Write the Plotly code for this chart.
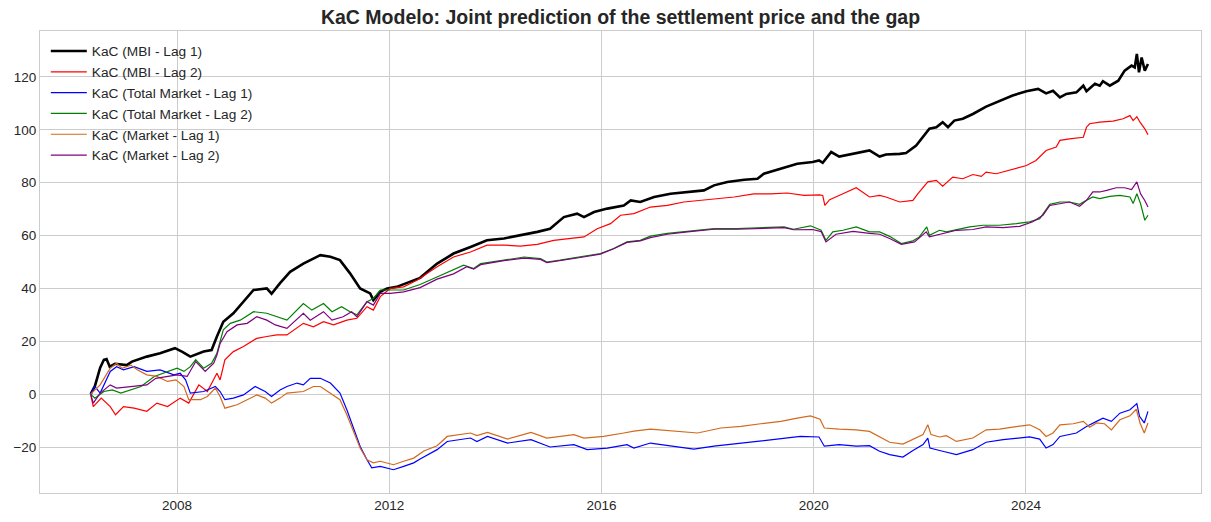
import pandas as pd
import plotly.graph_objects as go

# ---- data (decimal year, value) ----
mbi_lag1_t = [2006.37, 2006.45, 2006.55, 2006.62, 2006.67, 2006.73, 2006.83, 2007.05, 2007.15, 2007.43, 2007.68, 2007.96,
              2008.10, 2008.25, 2008.50, 2008.65, 2008.75, 2008.87, 2009.06, 2009.25, 2009.44, 2009.69, 2009.78, 2009.94,
              2010.13, 2010.38, 2010.70, 2010.89, 2011.07, 2011.26, 2011.45, 2011.64, 2011.70, 2011.83, 2011.96, 2012.14,
              2012.40, 2012.58, 2012.90, 2013.21, 2013.53, 2013.84, 2014.16, 2014.47, 2014.79, 2015.03, 2015.29, 2015.54,
              2015.67, 2015.86, 2016.11, 2016.42, 2016.55, 2016.73, 2016.99, 2017.30, 2017.62, 2017.93, 2018.12, 2018.37,
              2018.69, 2018.94, 2019.06, 2019.37, 2019.69, 2019.98, 2020.10, 2020.17, 2020.33, 2020.48, 2020.80, 2021.05,
              2021.24, 2021.36, 2021.62, 2021.74, 2021.93, 2022.06, 2022.18, 2022.31, 2022.43, 2022.53, 2022.65, 2022.81,
              2023.00, 2023.25, 2023.50, 2023.75, 2024.01, 2024.23, 2024.38, 2024.51, 2024.64, 2024.76, 2024.95, 2025.08,
              2025.14, 2025.30, 2025.39, 2025.45, 2025.58, 2025.74, 2025.86, 2025.99, 2026.05, 2026.09, 2026.13, 2026.18,
              2026.24, 2026.30]
mbi_lag1_v = [0, 3, 10, 13, 13.3, 10.4, 11.5, 11, 12.3, 14.2, 15.5, 17.4,
              16, 14.2, 16.1, 16.7, 21.8, 27.4, 30.6, 35, 39.4, 40, 38, 42,
              46.3, 49.4, 52.6, 52, 50.7, 45.7, 40, 38.1, 35.6, 38.7, 40, 40.6,
              42.5, 44, 49.4, 53.2, 55.7, 58.2, 58.9, 60.1, 61.4, 62.6, 67, 68.3,
              67, 68.9, 70.2, 71.4, 73.3, 72.7, 74.6, 75.8, 76.5, 77.1, 79, 80.3,
              81.1, 81.5, 83.4, 85.3, 87.2, 87.8, 88.4, 87.5, 91.6, 89.9, 91.2, 92.2,
              89.9, 90.7, 90.9, 91.2, 94.1, 97.2, 100.4, 101, 102.9, 101, 103.5, 104.2,
              106, 108.8, 110.8, 113, 114.6, 115.5, 113.8, 114.8, 112.3, 113.6, 114.2, 116.7,
              114.6, 117.4, 116.7, 118.4, 116.7, 118.6, 122.4, 124.3, 123.6, 128.7, 121.8, 127.4,
              122.4, 124.9]

mbi_lag2_t = [2006.37, 2006.42, 2006.57, 2006.74, 2006.84, 2006.99, 2007.19, 2007.43, 2007.62, 2007.82, 2008.06, 2008.22,
              2008.41, 2008.57, 2008.75, 2008.81, 2008.90, 2009.06, 2009.25, 2009.50, 2009.69, 2009.88, 2010.07, 2010.38,
              2010.57, 2010.76, 2010.95, 2011.20, 2011.39, 2011.58, 2011.70, 2011.83, 2012.02, 2012.27, 2012.52, 2012.90,
              2013.21, 2013.53, 2013.84, 2014.16, 2014.47, 2014.79, 2015.10, 2015.41, 2015.67, 2015.92, 2016.17, 2016.36,
              2016.61, 2016.92, 2017.24, 2017.55, 2017.87, 2018.12, 2018.50, 2018.87, 2019.19, 2019.50, 2019.82, 2020.11,
              2020.17, 2020.21, 2020.30, 2020.55, 2020.80, 2021.05, 2021.24, 2021.36, 2021.62, 2021.87, 2021.96, 2022.15,
              2022.31, 2022.43, 2022.62, 2022.81, 2023.00, 2023.16, 2023.25, 2023.44, 2023.69, 2024.01, 2024.19, 2024.38,
              2024.57, 2024.64, 2024.82, 2025.08, 2025.14, 2025.20, 2025.39, 2025.64, 2025.83, 2025.96, 2026.02, 2026.09,
              2026.15, 2026.24, 2026.30]
mbi_lag2_v = [0, -4.7, -1.5, -4.7, -7.8, -4.7, -5.3, -6.5, -3.4, -4.7, -1.5, -3.4,
              3.5, 1, 7.9, 5.4, 13, 16.1, 18, 21.1, 21.8, 22.4, 22.4, 26.8,
              25.5, 27.4, 26.2, 28, 28.7, 33.1, 31.8, 36.9, 40, 40.6, 43.1, 48.2,
              51.9, 53.8, 56.4, 56.4, 56, 56.7, 58.2, 58.9, 59.5, 62.6, 64.5, 67.7,
              68.3, 70.8, 71.4, 72.7, 73.3, 74, 74.6, 75.8, 75.8, 76.1, 75.2, 75.4,
              75.2, 71.4, 73.6, 75.8, 78.1, 74.6, 75.2, 74.6, 72.7, 73.3, 75.8, 80.3,
              80.9, 78.7, 82.1, 81.5, 83.1, 82.4, 84, 83.4, 84.7, 86.5, 88.4, 92.2,
              93.5, 96, 96.6, 97.2, 101, 102.3, 102.9, 103.3, 104.2, 105.4, 103.5, 105,
              102.9, 100.4, 98.2]

tm_lag1_t = [2006.37, 2006.45, 2006.55, 2006.74, 2006.86, 2006.99, 2007.19, 2007.43, 2007.68, 2007.94, 2008.06, 2008.16,
             2008.25, 2008.50, 2008.72, 2008.81, 2008.90, 2009.06, 2009.25, 2009.47, 2009.66, 2009.78, 2009.94, 2010.07,
             2010.26, 2010.38, 2010.51, 2010.70, 2010.89, 2011.07, 2011.20, 2011.33, 2011.45, 2011.58, 2011.67, 2011.83,
             2012.08, 2012.27, 2012.46, 2012.58, 2012.90, 2013.09, 2013.53, 2013.65, 2013.85, 2014.23, 2014.67, 2015.03,
             2015.48, 2015.73, 2016.11, 2016.48, 2016.61, 2016.92, 2017.36, 2017.74, 2018.12, 2018.56, 2019.00, 2019.38,
             2019.75, 2020.10, 2020.20, 2020.48, 2020.80, 2021.05, 2021.24, 2021.43, 2021.68, 2021.87, 2022.06, 2022.15,
             2022.19, 2022.43, 2022.69, 2023.00, 2023.25, 2023.57, 2023.82, 2024.07, 2024.26, 2024.38, 2024.51, 2024.64,
             2024.95, 2025.14, 2025.33, 2025.45, 2025.61, 2025.77, 2025.96, 2026.09, 2026.14, 2026.23, 2026.30]
tm_lag1_v = [0, 2.9, 0.4, 8.6, 10.4, 9.2, 10.4, 8.6, 9.2, 7.3, 7.9, 5.4,
             0.4, 1, 2.9, 1, -2.1, -1.5, -0.3, 2.9, 1, -0.9, 1.6, 2.9,
             4.2, 3.5, 6, 6, 4.2, 0.4, -5.9, -13.5, -19.7, -24.8, -27.9, -27.3,
             -28.6, -27.3, -26, -24.5, -21, -17.9, -16.6, -17.9, -16, -18.5, -17.2, -20,
             -19.1, -21, -20.4, -19.1, -20.4, -18.5, -19.7, -20.8, -19.7, -18.7, -17.9, -17,
             -16, -16.2, -19.7, -19.1, -19.7, -19.5, -21.6, -22.9, -23.8, -21.3, -19.1, -16.6,
             -20.4, -21.6, -22.9, -21, -18.2, -17.2, -16.6, -16.2, -17, -20.4, -19.1, -16,
             -14.7, -12.2, -10.3, -9.1, -10.3, -7.2, -5.9, -3.6, -8.4, -10.9, -6.5]

tm_lag2_t = [2006.37, 2006.45, 2006.62, 2006.78, 2006.94, 2007.13, 2007.32, 2007.57, 2007.82, 2008.00, 2008.13, 2008.25,
             2008.35, 2008.50, 2008.65, 2008.75, 2008.87, 2009.00, 2009.19, 2009.44, 2009.69, 2009.88, 2010.07, 2010.38,
             2010.54, 2010.76, 2010.92, 2011.10, 2011.26, 2011.39, 2011.58, 2011.70, 2011.83, 2012.02, 2012.27, 2012.58,
             2012.90, 2013.21, 2013.40, 2013.59, 2013.72, 2014.16, 2014.54, 2014.85, 2014.97, 2015.22, 2015.60, 2015.98,
             2016.23, 2016.48, 2016.73, 2016.92, 2017.24, 2017.62, 2018.12, 2018.56, 2019.00, 2019.44, 2019.62, 2019.94,
             2020.14, 2020.23, 2020.36, 2020.55, 2020.80, 2021.05, 2021.24, 2021.43, 2021.65, 2021.87, 2021.99, 2022.13,
             2022.18, 2022.37, 2022.50, 2022.69, 2022.94, 2023.19, 2023.50, 2023.82, 2024.07, 2024.26, 2024.45, 2024.64,
             2024.82, 2025.01, 2025.08, 2025.26, 2025.39, 2025.58, 2025.77, 2025.96, 2026.02, 2026.09, 2026.16, 2026.24,
             2026.30]
tm_lag2_v = [0, -1.5, 1, 1.6, 0.4, 1.6, 2.9, 6.7, 8.6, 9.8, 8.6, 10.4,
             13, 9.8, 11.7, 15.5, 24.3, 26.8, 28, 31.2, 30.6, 29.3, 28, 34.3,
             31.8, 34.3, 31.2, 33.1, 31.2, 30, 35, 36.2, 39.4, 39.4, 39.4, 41.5,
             44.4, 47.3, 48.8, 47.5, 49.4, 50.7, 51.9, 51.3, 50, 50.7, 51.9, 53.2,
             55.1, 57.6, 58.2, 59.8, 60.8, 61.6, 62.6, 62.6, 63, 63.3, 62.4, 63.7,
             62, 58.2, 61.4, 62, 63.3, 61.4, 61.4, 59.7, 57, 58, 59.5, 63.3,
             60.1, 62, 61.4, 62.3, 63.3, 63.9, 63.9, 64.5, 65.2, 66.4, 71.8, 72.7,
             72.7, 71.8, 72.7, 74.6, 74, 74.8, 75.2, 74.6, 72.1, 75.8, 72.1, 65.8,
             67.7]

mk_lag1_t = [2006.37, 2006.42, 2006.55, 2006.74, 2006.86, 2006.96, 2007.13, 2007.25, 2007.43, 2007.62, 2007.82, 2007.98,
             2008.13, 2008.22, 2008.44, 2008.57, 2008.72, 2008.81, 2008.90, 2009.13, 2009.32, 2009.50, 2009.66, 2009.78,
             2009.94, 2010.07, 2010.38, 2010.57, 2010.70, 2010.89, 2011.07, 2011.20, 2011.33, 2011.45, 2011.58, 2011.70,
             2011.83, 2012.08, 2012.27, 2012.46, 2012.65, 2012.90, 2013.09, 2013.53, 2013.65, 2013.85, 2014.23, 2014.67,
             2014.97, 2015.48, 2015.67, 2016.04, 2016.42, 2016.61, 2016.92, 2017.36, 2017.81, 2018.25, 2018.63, 2019.00,
             2019.38, 2019.69, 2019.94, 2020.12, 2020.20, 2020.48, 2020.80, 2021.05, 2021.24, 2021.43, 2021.68, 2021.87,
             2022.06, 2022.15, 2022.21, 2022.37, 2022.50, 2022.69, 2023.00, 2023.25, 2023.50, 2023.75, 2024.07, 2024.26,
             2024.38, 2024.51, 2024.64, 2024.89, 2025.08, 2025.20, 2025.33, 2025.48, 2025.61, 2025.77, 2025.96, 2026.08,
             2026.15, 2026.23, 2026.30]
mk_lag1_v = [0, 1, 3.5, 9.8, 11.7, 9.8, 11, 9.2, 7.3, 6.7, 4.8, 5.4,
             2.9, -2.1, -2.1, -0.9, 2.3, -0.9, -5.3, -4, -2.1, -0.3, -1.5, -3.4,
             -1.5, 0.4, 1, 2.9, 2.9, 0.4, -2.1, -7.8, -14.1, -20.4, -24.8, -26,
             -25.4, -26.7, -25.4, -24.2, -21.5, -19.5, -16, -14.7, -15.7, -14.5, -17, -14.5,
             -16.6, -15.3, -16.6, -16, -14.7, -14, -13.2, -14, -14.7, -12.8, -12.2, -11.2,
             -10.3, -9.1, -8.2, -9.5, -12.8, -13.2, -13.5, -14.1, -16, -18.2, -18.9, -17,
             -15.3, -11.6, -15.3, -16.2, -15.7, -17.9, -16.6, -13.5, -13.2, -12.5, -11.6, -13.5,
             -16, -14.7, -11.6, -11.2, -10.3, -12.5, -10.9, -11.2, -13.5, -9.7, -8.2, -5.7,
             -10.9, -14.7, -10.9]

mk_lag2_t = [2006.37, 2006.42, 2006.55, 2006.74, 2006.86, 2007.13, 2007.43, 2007.60, 2007.82, 2008.00, 2008.19, 2008.35,
             2008.53, 2008.69, 2008.75, 2008.81, 2008.94, 2009.13, 2009.32, 2009.50, 2009.69, 2009.85, 2010.07, 2010.38,
             2010.51, 2010.76, 2010.92, 2011.13, 2011.29, 2011.39, 2011.58, 2011.70, 2011.83, 2012.02, 2012.27, 2012.58,
             2012.90, 2013.21, 2013.46, 2013.59, 2013.72, 2014.16, 2014.54, 2014.85, 2014.97, 2015.22, 2015.60, 2015.98,
             2016.23, 2016.48, 2016.73, 2016.92, 2017.24, 2017.62, 2018.12, 2018.56, 2019.00, 2019.44, 2019.62, 2019.98,
             2020.14, 2020.23, 2020.42, 2020.74, 2021.05, 2021.24, 2021.43, 2021.65, 2021.90, 2022.12, 2022.18, 2022.43,
             2022.69, 2023.00, 2023.25, 2023.57, 2023.88, 2024.13, 2024.32, 2024.45, 2024.64, 2024.82, 2025.01, 2025.14,
             2025.26, 2025.39, 2025.52, 2025.70, 2025.86, 2025.99, 2026.09, 2026.16, 2026.24, 2026.30]
mk_lag2_v = [0, -3.4, 0.4, 3.5, 2.3, 2.9, 3.5, 6, 6.7, 7.3, 6.7, 12.3,
             8.6, 11.7, 14.8, 19.2, 23.6, 26.2, 26.8, 29.3, 28, 26.2, 24.9, 30.6,
             28, 31.2, 28, 29.3, 31.2, 29.3, 35, 33.7, 38.1, 38.1, 38.7, 40.3,
             43.5, 45.5, 48.2, 47.3, 49, 50.5, 51.5, 51, 49.8, 50.5, 51.7, 53,
             55, 57.4, 58, 59.2, 60.5, 61.4, 62.4, 62.4, 62.8, 63, 62.2, 62.3,
             61.5, 57.6, 60.5, 61.6, 60.8, 60.5, 58.9, 56.7, 57.6, 61.4, 59.5, 60.8,
             62, 62.3, 63.3, 63, 63.5, 65.2, 67.7, 71.4, 72.1, 72.7, 71.1, 73.3,
             76.5, 76.5, 77.1, 78.1, 78.1, 77.4, 80.3, 75.8, 73.3, 70.8]

series_names = ["KaC (MBI - Lag 1)", "KaC (MBI - Lag 2)", "KaC (Total Market - Lag 1)",
                "KaC (Total Market - Lag 2)", "KaC (Market - Lag 1)", "KaC (Market - Lag 2)"]
series_colors = ["#000000", "#ff0000", "#0000ff", "#008000", "#d2691e", "#800080"]
series_widths = [2.6, 1.2, 1.2, 1.2, 1.2, 1.2]

x_ticks = [2008, 2012, 2016, 2020, 2024]
y_ticks = [-20, 0, 20, 40, 60, 80, 100, 120]


def to_date(t):
    y = int(t)
    start = pd.Timestamp(year=y, month=1, day=1)
    end = pd.Timestamp(year=y + 1, month=1, day=1)
    return start + (end - start) * (t - y)


series = [(mbi_lag1_t, mbi_lag1_v), (mbi_lag2_t, mbi_lag2_v), (tm_lag1_t, tm_lag1_v),
          (tm_lag2_t, tm_lag2_v), (mk_lag1_t, mk_lag1_v), (mk_lag2_t, mk_lag2_v)]

fig = go.Figure()
for (t, v), name, col, w in zip(series, series_names, series_colors, series_widths):
    fig.add_trace(go.Scatter(x=[to_date(a) for a in t], y=v, mode="lines", name=name,
                             line=dict(color=col, width=w)))

font_family = "Liberation Sans, Arial, sans-serif"
fig.update_layout(
    width=1211, height=522,
    margin=dict(l=40, r=10, t=31, b=29),
    paper_bgcolor="white", plot_bgcolor="white",
    font=dict(family=font_family, size=13.5, color="#262626"),
    title=dict(text="<b>KaC Modelo: Joint prediction of the settlement price and the gap</b>",
               x=620.5 / 1211, xanchor="center", y=1 - 17 / 522, yanchor="middle",
               font=dict(size=19.5, color="#262626")),
    showlegend=True,
    legend=dict(x=0.005, y=0.99, xanchor="left", yanchor="top", bgcolor="rgba(0,0,0,0)",
                borderwidth=0, itemwidth=36, font=dict(size=13.7, color="#262626")),
)
fig.update_xaxes(
    range=[to_date(2005.415), to_date(2027.30)],
    tickvals=[to_date(a) for a in x_ticks], ticktext=[str(a) for a in x_ticks],
    showgrid=True, gridcolor="#cccccc", gridwidth=1,
    showline=True, linecolor="#cccccc", linewidth=1, mirror=True,
    ticks="", zeroline=False,
)
fig.update_yaxes(
    range=[-37.4, 137.4], tickvals=y_ticks,
    showgrid=True, gridcolor="#cccccc", gridwidth=1,
    showline=True, linecolor="#cccccc", linewidth=1, mirror=True,
    ticks="", zeroline=False,
)
fig.write_html("out.html", config={"displayModeBar": False},
               post_script="document.body.style.margin='0';")
